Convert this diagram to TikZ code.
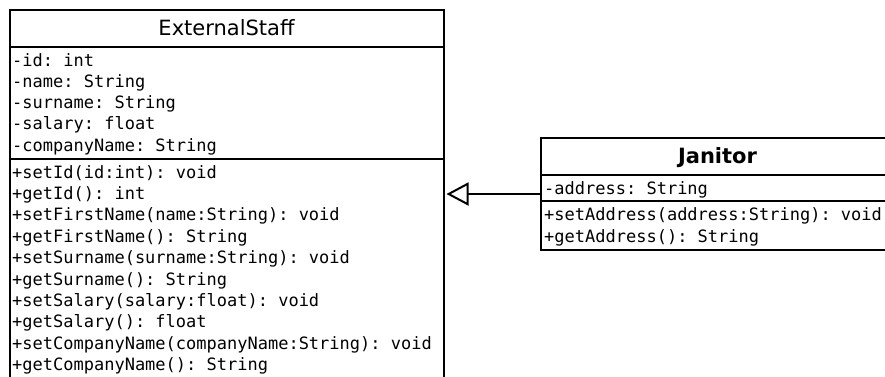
\documentclass[tikz,border=0pt]{standalone}
\usepackage{fontspec}
\setmainfont{DejaVu Sans}
\setmonofont{DejaVu Sans Mono}
\usetikzlibrary{arrows.meta}
\begin{document}
\begin{tikzpicture}[x=1pt, y=-1pt,
		umlbox/.style={draw, line width=2pt, inner sep=0pt, outer sep=0pt, anchor=north west},
		umltitle/.style={font=\fontsize{21}{25}\selectfont, anchor=base, inner sep=0pt},
		member/.style={font=\fontsize{17}{20}\selectfont\ttfamily, anchor=base west, inner sep=0pt},
		sep/.style={line width=2pt}]
		\useasboundingbox (0,0) rectangle (885,376);
		\clip (0,0) rectangle (885,376);
		\node[umlbox, minimum width=434pt, minimum height=400pt] (staff) at (9.5,10) {};
		\node[umltitle] (stafftitle) at (staff.north |- 0,35) {ExternalStaff};
		\draw[sep] (staff.west |- 0,47) -- (staff.east |- 0,47);
		\draw[sep] (staff.west |- 0,159) -- (staff.east |- 0,159);
		\foreach \txt [count=\i from 0] in {-id: int, -name: String, -surname: String, -salary: float, -companyName: String}
			\node[member] (staffattr\i) at (12,66+21.3*\i) {\txt};
		\foreach \txt [count=\i from 0] in {+setId(id:int): void, +getId(): int, +setFirstName(name:String): void, +getFirstName(): String, +setSurname(surname:String): void, +getSurname(): String, +setSalary(salary:float): void, +getSalary(): float, +setCompanyName(companyName:String): void, +getCompanyName(): String}
			\node[member] (staffop\i) at (12,178+21.4*\i) {\txt};
		\node[umlbox, minimum width=353pt, minimum height=112pt] (janitor) at (541,138) {};
		\node[umltitle, font=\fontsize{21}{25}\selectfont\bfseries] (janitortitle) at (janitor.north |- 0,163) {Janitor};
		\draw[sep] (janitor.west |- 0,175) -- (janitor.east |- 0,175);
		\draw[sep] (janitor.west |- 0,201) -- (janitor.east |- 0,201);
		\node[member] (janitorattr) at (544,194) {-address: String};
		\node[member] (janitorop0) at (544,220) {+setAddress(address:String): void};
		\node[member] (janitorop1) at (544,242) {+getAddress(): String};
		\draw[line width=2pt, -{Triangle[open, length=22pt, width=23pt]}, shorten >=3pt] (janitor.west) -- (janitor.west -| staff.east);
	\end{tikzpicture}
\end{document}
